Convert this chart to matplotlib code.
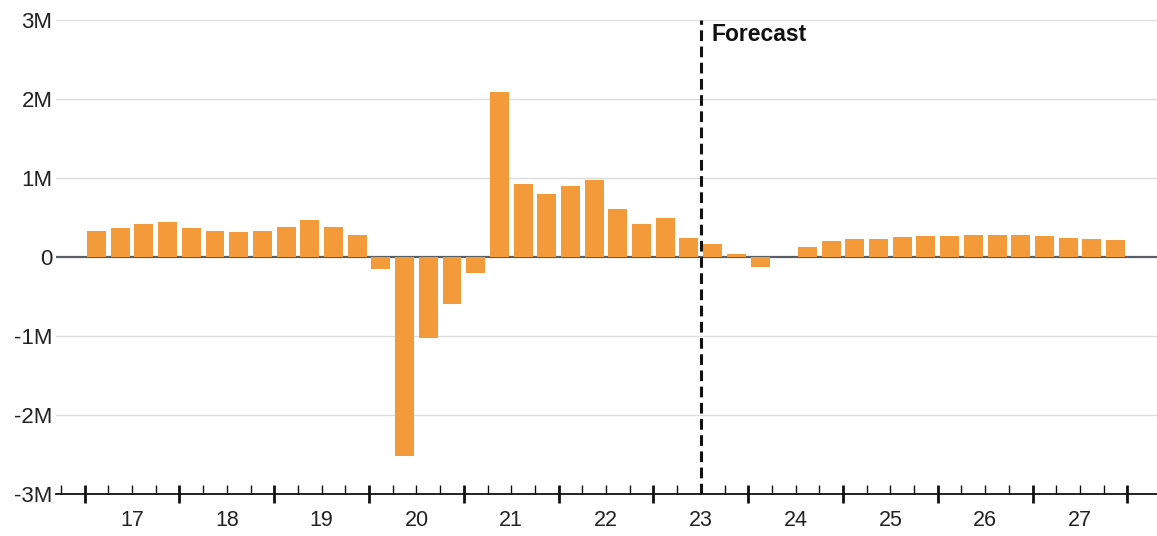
import numpy as np
import matplotlib
matplotlib.use("Agg")
import matplotlib.pyplot as plt
from matplotlib.ticker import FixedLocator, FuncFormatter

plt.rcParams['font.family'] = ['Liberation Sans', 'DejaVu Sans']

# quarterly change, millions (2017 Q1 .. 2027 Q4)
years = ["17", "18", "19", "20", "21", "22", "23", "24", "25", "26", "27"]
values = [
    0.33, 0.36, 0.41, 0.44,
    0.36, 0.32, 0.31, 0.32,
    0.38, 0.46, 0.38, 0.28,
    -0.15, -2.52, -1.03, -0.60,
    -0.21, 2.08, 0.92, 0.79,
    0.89, 0.97, 0.61, 0.42,
    0.49, 0.24, 0.16, 0.04,
    -0.13, 0.0, 0.12, 0.20,
    0.23, 0.23, 0.25, 0.26,
    0.26, 0.28, 0.28, 0.27,
    0.26, 0.24, 0.23, 0.21,
]
forecast_start = 25.5  # between 2023 Q2 and Q3
yticks = [-3, -2, -1, 0, 1, 2, 3]

fig = plt.figure(figsize=(11.57, 5.36), dpi=100)
ax = fig.add_axes([56 / 1157, 42 / 536, 1 - 56 / 1157, (494 - 19.5) / 536])

x = np.arange(len(values))
ax.bar(x, values, width=0.8, color="#F39B3A", zorder=3)

ax.set_xlim(-1.71, 44.75)
ax.set_ylim(-3, 3)

# gridlines
for v in yticks[1:]:
    if v == 0:
        ax.axhline(0, color="#5a5f66", lw=1.6, zorder=2)
    else:
        ax.axhline(v, color="#dcdcdc", lw=1.0, zorder=1)

ax.set_yticks(yticks)
ax.yaxis.set_major_formatter(FuncFormatter(lambda v, p: "0" if v == 0 else f"{int(v)}M"))
ax.tick_params(axis="y", length=0, pad=2.5, labelsize=16, labelcolor="#222222")

# x axis: year boundaries (major) and quarter boundaries (minor)
n_years = len(years)
major = [-0.5 + 4 * k for k in range(n_years + 1)]
minor = [q - 0.5 for q in range(-1, len(values) + 1) if (q - 0.5) not in major]
ax.xaxis.set_major_locator(FixedLocator(major))
ax.xaxis.set_minor_locator(FixedLocator(minor))
ax.xaxis.set_major_formatter(FuncFormatter(lambda v, p: ""))
ax.tick_params(axis="x", which="major", direction="inout", length=13, width=2.0, color="#111111")
ax.tick_params(axis="x", which="minor", direction="in", length=6.5, width=1.0, color="#111111")

for i, yr in enumerate(years):
    ax.text(1.5 + 4 * i, -0.055, yr, transform=ax.get_xaxis_transform(),
            ha="center", va="center", fontsize=15.5, color="#222222")

for side in ["top", "right", "left"]:
    ax.spines[side].set_visible(False)
ax.spines["bottom"].set_color("#111111")
ax.spines["bottom"].set_linewidth(1.3)

# forecast marker
ax.axvline(forecast_start, color="#111111", lw=2.2, ls=(0, (3.5, 1.8)), zorder=4)
ax.text(forecast_start + 0.45, 2.95, "Forecast", ha="left", va="top",
        fontsize=16.5, fontweight="bold", color="#111111")

fig.savefig("out.png", dpi=100)
